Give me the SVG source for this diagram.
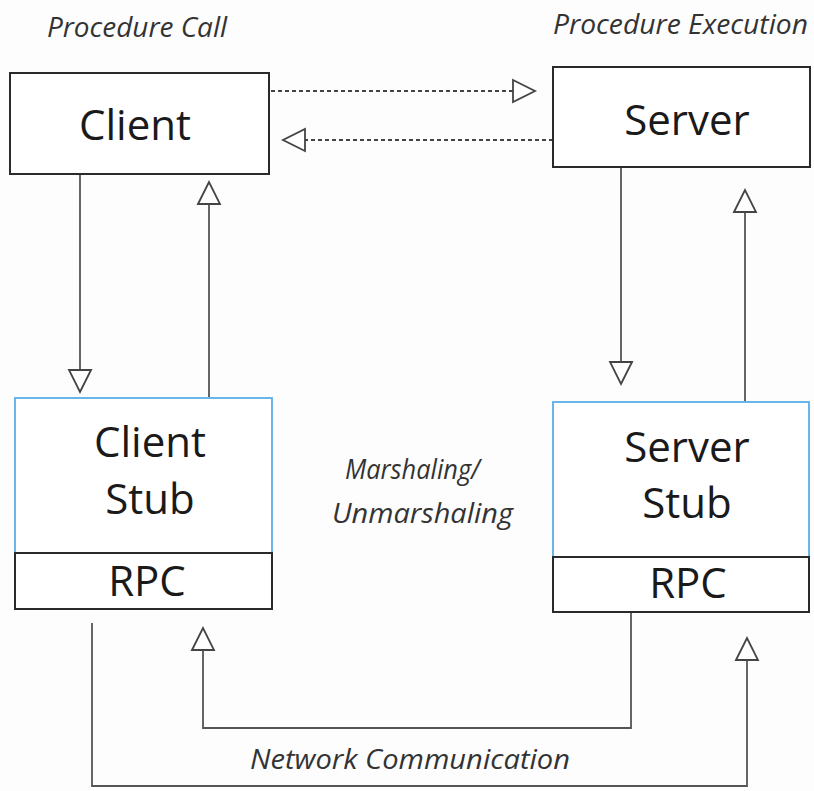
<svg xmlns="http://www.w3.org/2000/svg" width="814" height="791" viewBox="0 0 814 791">
  <style>
    .box { fill: #ffffff; stroke: #2a2a2a; stroke-width: 2; }
    .stub { fill: #ffffff; stroke: #5aaee6; stroke-width: 1.8; }
    .name { font-family: "Open Sans", "Noto Sans", sans-serif; font-size: 42px; fill: #1a1a1a; text-anchor: middle; }
    .note { font-family: "Open Sans", "Noto Sans", sans-serif; font-style: italic; font-size: 27px; fill: #333333; }
    .wire { fill: none; stroke: #555555; stroke-width: 1.8; }
    .dash { fill: none; stroke: #444444; stroke-width: 2; stroke-dasharray: 4 3; }
  </style>
  <defs>
    <marker id="head" markerUnits="userSpaceOnUse" markerWidth="28" markerHeight="28" refX="23" refY="12" orient="auto" overflow="visible">
      <path d="M1,1 L23,12 L1,23 Z" fill="#ffffff" stroke="#444444" stroke-width="1.8" stroke-linejoin="miter"/>
    </marker>
  </defs>

  <rect width="814" height="791" fill="#fdfdfd"/>

  <!-- captions -->
  <text class="note" x="47" y="37" textLength="180" lengthAdjust="spacingAndGlyphs">Procedure Call</text>
  <text class="note" x="553" y="34" textLength="255" lengthAdjust="spacingAndGlyphs">Procedure Execution</text>
  <text class="note" x="345" y="479" textLength="135" lengthAdjust="spacingAndGlyphs">Marshaling/</text>
  <text class="note" x="332" y="523" textLength="181" lengthAdjust="spacingAndGlyphs">Unmarshaling</text>
  <text class="note" x="250" y="769" textLength="320" lengthAdjust="spacingAndGlyphs">Network Communication</text>

  <!-- connectors -->
  <g id="connectors">
    <line class="dash" x1="271" y1="91" x2="535" y2="91" marker-end="url(#head)"/>
    <line class="dash" x1="553" y1="140" x2="283" y2="140" marker-end="url(#head)"/>
    <line class="wire" x1="80" y1="175" x2="80" y2="392" marker-end="url(#head)"/>
    <line class="wire" x1="209" y1="397" x2="209" y2="182" marker-end="url(#head)"/>
    <line class="wire" x1="621" y1="168" x2="621" y2="384" marker-end="url(#head)"/>
    <line class="wire" x1="745" y1="401" x2="745" y2="190" marker-end="url(#head)"/>
    <path class="wire" d="M631,613 V728 H203 V628" marker-end="url(#head)"/>
    <path class="wire" d="M92,623 V786 H747 V638" marker-end="url(#head)"/>
  </g>

  <g id="client">
    <rect class="box" x="10" y="73" width="259" height="101"/>
    <text class="name" x="135" y="140">Client</text>
  </g>

  <g id="server">
    <rect class="box" x="553" y="67" width="257" height="100"/>
    <text class="name" x="687" y="135">Server</text>
  </g>

  <g id="client-stub">
    <rect class="stub" x="15" y="398" width="257" height="155"/>
    <rect class="box" x="15" y="553" width="257" height="56"/>
    <text class="name" x="150" y="457">Client</text>
    <text class="name" x="150" y="514">Stub</text>
    <text class="name" x="147" y="596">RPC</text>
  </g>

  <g id="server-stub">
    <rect class="stub" x="553" y="402" width="256" height="155"/>
    <rect class="box" x="553" y="557" width="256" height="55"/>
    <text class="name" x="687" y="462">Server</text>
    <text class="name" x="687" y="518">Stub</text>
    <text class="name" x="688" y="598">RPC</text>
  </g>
</svg>
